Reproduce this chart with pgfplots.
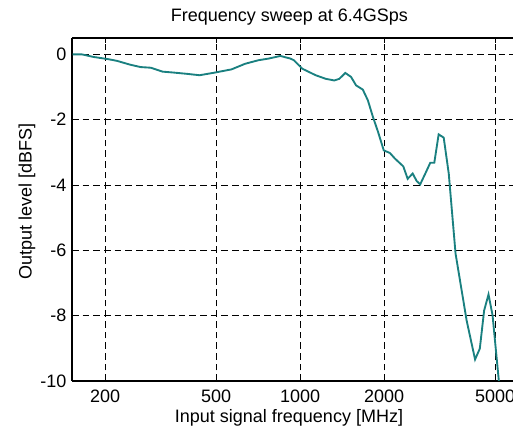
\documentclass[border=0pt]{standalone}
\usepackage{fontspec}
\setmainfont{Liberation Sans}
\usepackage{pgfplots}
\pgfplotsset{compat=1.18}
\definecolor{lineteal}{RGB}{26,128,128}
\begin{document}
\begin{tikzpicture}
\begin{axis}[
  scale only axis,
  width=330.75pt, height=257.25pt,
  xmode=log,
  xmin=152, xmax=5800,
  ymin=-10, ymax=0.5,
  xtick={200,500,1000,2000,5000},
  xticklabels={200,500,1000,2000,5000},
  xminorticks=false,
  ytick={-10,-8,-6,-4,-2,0},
  yticklabels={-10,-8,-6,-4,-2,0},
  axis x line=box, axis y line=left,
  axis line style={-, line width=1pt, black},
  tick style={black, line width=0.6pt},
  major tick length=3.75pt,
  tick align=inside,
  grid=major,
  grid style={black, line width=0.55pt, dash pattern=on 5pt off 3pt},
  tick label style={font=\fontsize{13.5}{16}\selectfont},
  /pgf/number format/assume math mode=true,
  yticklabel style={inner sep=0pt, xshift=-4pt},
  xticklabel style={inner sep=0pt, anchor=base, yshift=-16pt},
  xlabel={Input signal frequency [MHz]},
  ylabel={Output level [dBFS]},
  title={Frequency sweep at 6.4GSps},
  xlabel style={font=\fontsize{13.5}{16}\selectfont, inner sep=0pt, at={(axis description cs:0.492,-0.1216)}, anchor=base},
  ylabel style={font=\fontsize{13.5}{16}\selectfont, inner sep=0pt, at={(axis description cs:-0.0914,0.523)}, anchor=base},
  title style={font=\fontsize{13.5}{16}\selectfont, inner sep=0pt, at={(axis description cs:0.493,1.0242)}, anchor=base},
  clip=true,
]
\addplot[color=lineteal, line width=1.4pt, mark=none] coordinates {
(152.8,0.0) (164.6,0.0) (181.5,-0.08) (205.6,-0.15) (220.3,-0.2) (246.4,-0.32)
(267.9,-0.39) (291.2,-0.41) (321,-0.53) (353.6,-0.56) (395.5,-0.6) (435.8,-0.64)
(493.6,-0.56) (567.6,-0.46) (634.5,-0.29) (709.3,-0.18) (770.9,-0.13) (849.4,-0.05)
(922.7,-0.13) (949.5,-0.18) (1017.6,-0.44) (1137,-0.64) (1236,-0.75) (1326,-0.8)
(1382,-0.75) (1452,-0.57) (1522,-0.69) (1587,-0.95) (1678,-1.08) (1750,-1.41)
(1825,-1.92) (1904,-2.38) (1995,-2.94) (2098,-3.02) (2187,-3.19) (2344,-3.43)
(2430,-3.81) (2533,-3.65) (2619,-3.88) (2695,-3.98) (2811,-3.65) (2929,-3.32)
(3028,-3.32) (3139,-2.45) (3273,-2.55) (3412,-3.65) (3609,-6.1) (3956,-8.15)
(4240,-9.34) (4409,-9.01) (4570,-7.84) (4738,-7.35) (4899,-7.99) (5200,-10.3)
};
\end{axis}
\pgfresetboundingbox
\path[use as bounding box] ([shift={(-54pt,-37.5pt)}]current axis.south west) rectangle ([shift={(0pt,28.5pt)}]current axis.north east);
\end{tikzpicture}
\end{document}
